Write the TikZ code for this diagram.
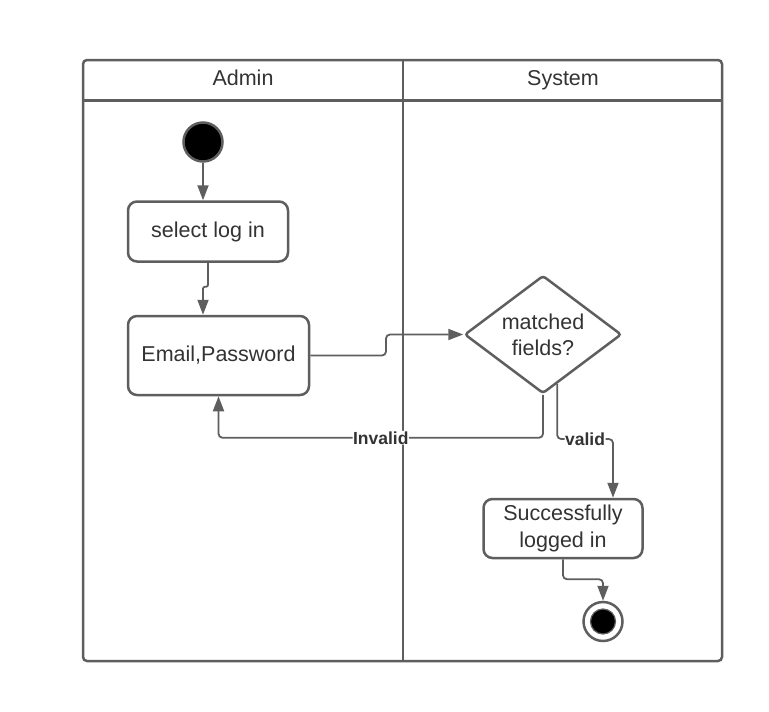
\documentclass[tikz,border=0pt]{standalone}
\usepackage{fontspec}
\setmainfont{Liberation Sans}
\usepackage{xcolor}
\usetikzlibrary{arrows.meta,shapes.geometric}
\definecolor{wire}{HTML}{5E5E5E}
\definecolor{ink}{HTML}{333333}
\tikzset{
  lane/.style={draw=wire, line width=2.5pt},
  head/.style={anchor=base, text=ink, font=\fontsize{21.5}{26}\selectfont},
  act/.style={draw=wire, fill=white, line width=2.5pt, rounded corners=9pt, align=center,
    inner sep=0pt, text=ink, font=\fontsize{21.5}{27}\selectfont},
  decision/.style={diamond, aspect=1.33, draw=wire, fill=white, line width=2.5pt, rounded corners=3pt,
    minimum width=157pt, minimum height=118pt, inner sep=0pt, align=center, text=ink,
    font=\fontsize{21.5}{26}\selectfont},
  initial/.style={circle, fill=black, draw=wire, line width=2.5pt, minimum size=39pt, inner sep=0pt},
  final/.style={circle, fill=white, draw=wire, line width=2.5pt, minimum size=39pt, inner sep=0pt},
  flow/.style={-{Triangle[length=15pt,width=11pt]}, draw=wire, line width=1.8pt, rounded corners=4pt},
  guard/.style={fill=white, inner sep=0.5pt, text=ink, font=\fontsize{17.5}{20}\selectfont\bfseries}
}
\begin{document}
\begin{tikzpicture}[x=1pt, y=-1pt]
  \useasboundingbox (0,0) rectangle (769,712);

  % swimlanes
  \draw[lane, rounded corners=4pt] (83,60) rectangle (722,661);
  \draw[lane] (83,100.5) -- (722,100.5);
  \draw[lane] (403,60) -- (403,661);
  \node[head] (admin) at (243,85.5) {Admin};
  \node[head] (system) at (563,85.5) {System};

  \node[initial] (init) at (203,142) {};
  \node[act, minimum width=160pt, minimum height=60pt] (sel) at (208,231.5) {select log in};
  \node[act, minimum width=181pt, minimum height=79pt] (cred) at (218.5,355.5) {Email,Password};
  \node[decision] (match) at (543,334.5) {matched\\fields?};
  \node[act, minimum width=159pt, minimum height=59pt] (done) at (563,528.5) {Successfully\\logged in};
  \node[final] (fin) at (603,621.5) {};
  \fill[black, draw=wire, line width=1.2pt] (fin.center) circle (12.5pt);

  \coordinate (bend) at (386,0);

  \draw[flow] (init) -- (init |- sel.north);
  \draw[flow, rounded corners=2pt] (sel.south) -- ++(0,24) -| (init |- cred.north);
  \draw[flow] (cred.east) -- (cred.east -| bend) |- (match.west);
  \draw[flow] (match.south) -- ++(0,43) -| node[guard, pos=0.25] {Invalid} (cred.south);
  \draw[flow] (match.-74) -- ++(0,55) -| node[guard, pos=0.25] {valid} ([xshift=50pt]done.north);
  \draw[flow] (done.south) -- ++(0,20) -| (fin.north);
\end{tikzpicture}
\end{document}
